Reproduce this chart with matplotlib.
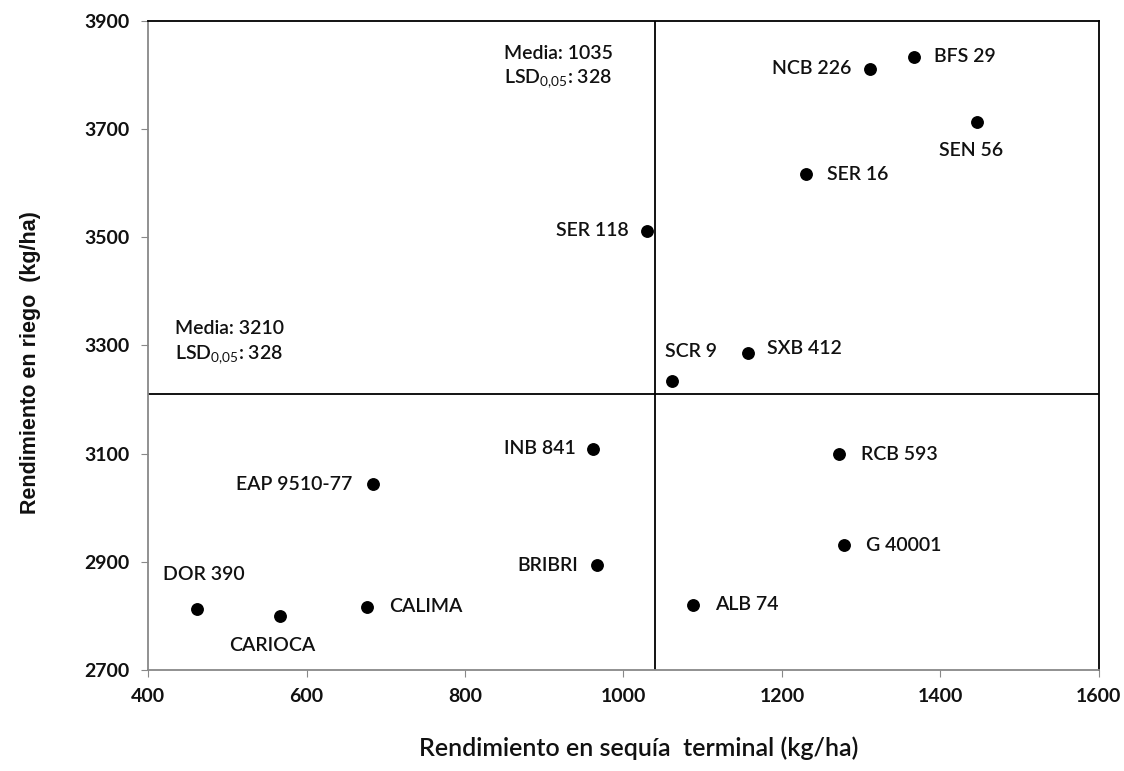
import matplotlib
matplotlib.use('Agg')
import matplotlib.pyplot as plt

plt.rcParams['font.family'] = ['Lato', 'DejaVu Sans']
plt.rcParams['mathtext.fontset'] = 'custom'
plt.rcParams['mathtext.rm'] = 'Lato'

# Genotypes: yield under terminal drought (x) and irrigation (y), kg/ha
genotypes = ['BFS 29', 'NCB 226', 'SEN 56', 'SER 16', 'SER 118', 'SCR 9', 'SXB 412',
             'INB 841', 'EAP 9510-77', 'BRIBRI', 'DOR 390', 'CARIOCA', 'CALIMA',
             'RCB 593', 'G 40001', 'ALB 74']
sequia = [1367, 1311, 1446, 1230, 1030, 1061, 1157, 962, 684, 967, 462, 566, 676, 1272, 1278, 1088]
riego = [3834, 3812, 3714, 3617, 3512, 3235, 3287, 3109, 3043, 2894, 2813, 2799, 2817, 3099, 2931, 2821]

# label placement: (dx, dy) offsets in points, horizontal alignment
label_pos = {
    'BFS 29': (14, 0, 'left'), 'NCB 226': (-13, 0, 'right'), 'SEN 56': (-4, -21, 'center'),
    'SER 16': (15, 0, 'left'), 'SER 118': (-13, 0, 'right'), 'SCR 9': (14, 21, 'center'),
    'SXB 412': (14, 3, 'left'), 'INB 841': (-13, 0, 'right'), 'EAP 9510-77': (-15, 0, 'right'),
    'BRIBRI': (-14, 0, 'right'), 'DOR 390': (5, 25, 'center'), 'CARIOCA': (-5, -21, 'center'),
    'CALIMA': (16, 0, 'left'), 'RCB 593': (16, 0, 'left'), 'G 40001': (16, 0, 'left'),
    'ALB 74': (16, 0, 'left'),
}

media_x = 1040   # vertical reference line as drawn
media_y = 3210

xticks = [400, 600, 800, 1000, 1200, 1400, 1600]
yticks = [2700, 2900, 3100, 3300, 3500, 3700, 3900]

txt = '#111111'

fig = plt.figure(figsize=(11.24, 7.71), dpi=100)
ax = fig.add_axes([0.1317, 0.131, 0.846, 0.8418])

ax.scatter(sequia, riego, s=68, color='black', zorder=3)
for name, x, y in zip(genotypes, sequia, riego):
    dx, dy, ha = label_pos[name]
    ax.annotate(name, (x, y), xytext=(dx, dy), textcoords='offset points',
                ha=ha, va='center', fontsize=14, fontweight='semibold', color=txt)

ax.axvline(media_x, color='black', lw=1.3, zorder=1)
ax.axhline(media_y, color='black', lw=1.3, zorder=1)

ax.text(0.374, 0.963, 'Media: 1035\nLSD$_{0{,}05}$: 328', transform=ax.transAxes,
        ha='left', va='top', fontsize=14, fontweight='semibold', color=txt, linespacing=1.35)
ax.text(0.0285, 0.539, 'Media: 3210\nLSD$_{0{,}05}$: 328', transform=ax.transAxes,
        ha='left', va='top', fontsize=14, fontweight='semibold', color=txt, linespacing=1.35)

ax.set_xlim(400, 1600)
ax.set_ylim(2700, 3900)
ax.set_xticks(xticks)
ax.set_yticks(yticks)
ax.tick_params(axis='both', direction='out', length=5, color='#888888',
               labelsize=14, labelcolor=txt)
ax.tick_params(axis='x', pad=8)
ax.tick_params(axis='y', pad=8)
for lab in ax.get_xticklabels() + ax.get_yticklabels():
    lab.set_fontweight('bold')

ax.spines['top'].set_color('black')
ax.spines['right'].set_color('black')
ax.spines['left'].set_color('#888888')
ax.spines['bottom'].set_color('#888888')
for sp in ax.spines.values():
    sp.set_linewidth(1.3)

ax.set_xlabel('Rendimiento en sequía  terminal (kg/ha)', fontsize=18, fontweight='semibold', color=txt)
ax.xaxis.set_label_coords(0.5165, -0.103)
ax.set_ylabel('Rendimiento en riego  (kg/ha)', fontsize=15.5, fontweight='bold',
              family=['Liberation Sans', 'DejaVu Sans'], color=txt)
ax.yaxis.set_label_coords(-0.113, 0.473)

plt.savefig('out.png', dpi=100)
plt.close()
